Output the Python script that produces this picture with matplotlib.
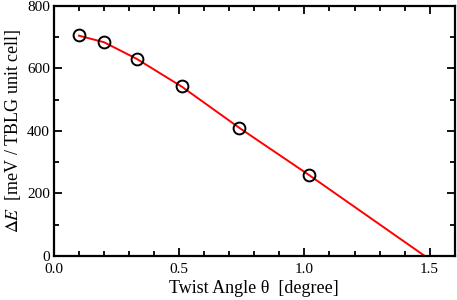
import matplotlib
matplotlib.use("Agg")
import matplotlib.pyplot as plt
import matplotlib.transforms as mtransforms
from matplotlib.ticker import MultipleLocator

plt.rcParams['font.family'] = ['Liberation Serif', 'DejaVu Serif']
plt.rcParams['mathtext.fontset'] = 'stix'

# data
angle = [0.10, 0.20, 0.33, 0.51, 0.74, 1.02]
dE = [707, 685, 630, 543, 410, 259]

# red fitted curve
fit_angle = [0.10, 0.20, 0.33, 0.51, 0.74, 1.02, 1.48]
fit_dE = [705, 684, 631, 542, 410, 258, 0]

fig = plt.figure(figsize=(4.57, 3.0), dpi=100)
ax = fig.add_axes([0.118, 0.147, 0.877, 0.833])

ax.plot(fit_angle, fit_dE, color='red', lw=1.4, zorder=2)
ax.plot(angle, dE, 'o', mfc='none', mec='black', ms=8.5, mew=1.4, zorder=3)

ax.set_xlim(0, 1.6)
ax.set_ylim(0, 800)
ax.xaxis.set_major_locator(MultipleLocator(0.5))
ax.xaxis.set_minor_locator(MultipleLocator(0.1))
ax.yaxis.set_major_locator(MultipleLocator(200))
ax.yaxis.set_minor_locator(MultipleLocator(100))
ax.xaxis.set_major_formatter(plt.FormatStrFormatter('%.1f'))

ax.tick_params(which='both', direction='in', top=True, right=True, width=1.3,
               labelsize=11)
ax.tick_params(axis='x', pad=5)
ax.tick_params(axis='y', pad=3)
ax.tick_params(which='major', length=6)
ax.tick_params(which='minor', length=3.5)
for s in ax.spines.values():
    s.set_linewidth(1.6)

# the "0" on the y axis sits a little high, as in the original
lab0 = ax.get_yticklabels()[0]
lab0.set_transform(lab0.get_transform() +
                   mtransforms.ScaledTranslation(0, 3 / 100, fig.dpi_scale_trans))

ax.set_xlabel('Twist Angle θ  [degree]', fontsize=13, labelpad=3)
ax.set_ylabel(r'$\Delta E$  [meV / TBLG unit cell]', fontsize=13, labelpad=3)

fig.savefig('out.png', dpi=100)
